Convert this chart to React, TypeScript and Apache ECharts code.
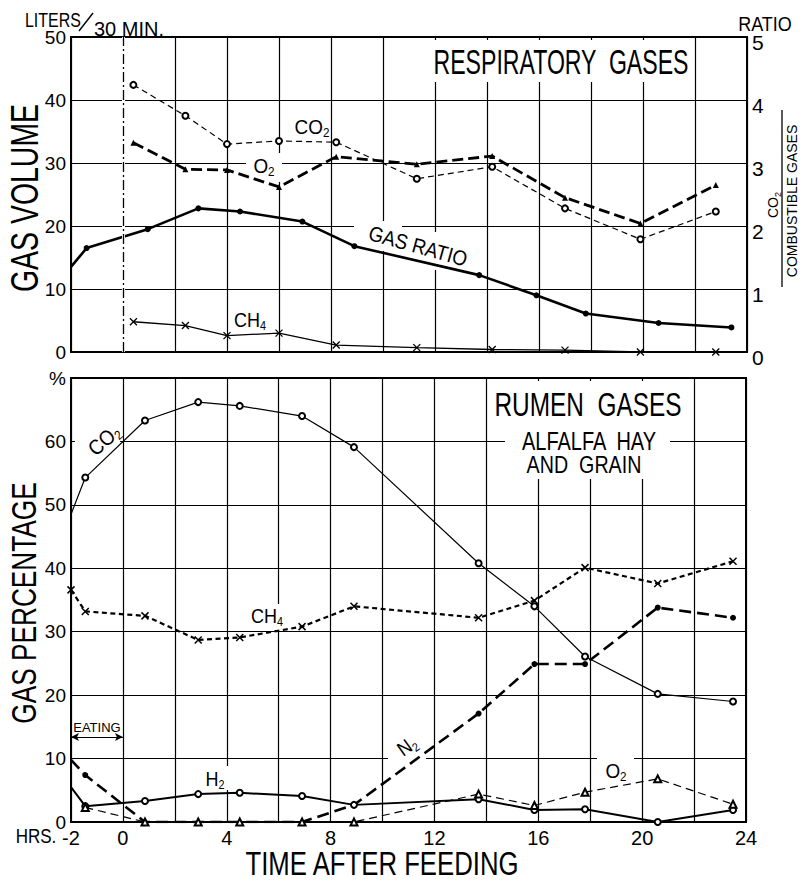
import React, { useEffect, useRef } from "react";
import * as echarts from "echarts";

// ---------- DATA ----------
const respHours = [0.4, 2.4, 4.0, 6.0, 8.2, 11.3, 14.2, 17.0, 19.9, 22.8];
const respCO2 = [42.4, 37.5, 33.0, 33.5, 33.3, 27.5, 29.4, 22.8, 17.9, 22.3];
const respO2 = [33.2, 29.0, 28.9, 26.2, 31.0, 29.8, 31.1, 24.5, 20.4, 26.5];
const respCH4 = [4.8, 4.2, 2.6, 3.0, 1.1, 0.7, 0.4, 0.3, 0.0, 0.0];
const ratioHours = [-2, -1.4, 0.95, 2.9, 4.5, 6.9, 8.9, 13.7, 15.9, 17.8, 20.6, 23.4];
const gasRatio = [1.35, 1.65, 1.95, 2.28, 2.23, 2.07, 1.68, 1.22, 0.9, 0.61, 0.46, 0.39];

const rumenHours = [-2, -1.45, 0.85, 2.9, 4.5, 6.9, 8.9, 13.7, 15.85, 17.8, 20.6, 23.5];
const rumenCO2 = [48.5, 54.3, 63.3, 66.2, 65.6, 64.0, 59.1, 40.8, 34.0, 26.1, 20.2, 19.0];
const rumenCH4 = [36.6, 33.2, 32.5, 28.7, 29.1, 30.8, 34.0, 32.2, 34.9, 40.1, 37.6, 41.1];
const rumenN2 = [9.8, 7.4, 0, 0, 0, 0, 2.7, 17.1, 24.9, 24.9, 33.8, 32.2];
const rumenH2 = [5.5, 2.5, 3.3, 4.4, 4.6, 4.1, 2.7, 3.6, 1.9, 2.0, 0, 1.9];
const o2Hours = [-1.45, 0.85, 2.9, 4.5, 6.9, 8.9, 13.7, 15.85, 17.8, 20.6, 23.5];
const rumenO2 = [2.3, 0, 0, 0, 0, 0, 4.4, 2.6, 4.7, 6.8, 2.8];

const hourMin = -2;
const hourMax = 24;
const hourStep = 2;
const feedingHour = 0;
const eatingStart = -2;
const eatingEnd = 0;
const eatingLevel = 13.4;
const volumeMax = 50;
const ratioMax = 5;
const percentMax = 70;

const FONT = "'Liberation Sans', Arial, sans-serif";
const X_MARK = "path://M0,0L10,10M10,0L0,10";

function pts(hours: number[], vals: number[], hideFirst = false, hideZero = false) {
  return hours.map((h, i) => {
    const item: any = { value: [h, vals[i]] };
    if ((hideFirst && i === 0) || (hideZero && vals[i] === 0)) item.symbol = "none";
    return item;
  });
}

function txt(text: string, x: number, y: number, size: number, o: any = {}) {
  return {
    type: "text", x, y, rotation: o.rot || 0, scaleX: o.sx || 1, scaleY: o.sy || 1, z: 10,
    style: { text, fontSize: size, fontFamily: FONT, fill: "#000", align: o.align || "center", verticalAlign: "middle" },
  };
}

function chem(base: string, sub: string, x: number, y: number, size: number, rot = 0, sx = 0.9) {
  const sub_size = Math.round(size * 0.62);
  return {
    type: "text", x, y, rotation: rot, scaleX: sx, z: 10,
    style: {
      text: `{a|${base}}{b|${sub}}`, align: "center", verticalAlign: "middle",
      rich: {
        a: { fontSize: size, fontFamily: FONT, fill: "#000", lineHeight: size + 4 },
        b: { fontSize: sub_size, fontFamily: FONT, fill: "#000", lineHeight: sub_size, padding: [size + 4 - sub_size, 0, 0, 0] },
      },
    },
  };
}

function knock(x: number, y: number, w: number, h: number) {
  return { type: "rect", z: 1, shape: { x, y, width: w, height: h }, style: { fill: "#fff" } };
}

const gridLine = () => ({ show: true, lineStyle: { color: "#000", width: 1.2 } });
const axisLine = () => ({ show: true, onZero: false, lineStyle: { color: "#000", width: 2 } });

export default function App() {
  const ref = useRef<HTMLDivElement>(null);

  useEffect(() => {
    if (!ref.current) return;
    const chart = echarts.init(ref.current, undefined, { renderer: "svg" });

    const option: any = {
      animation: false,
      backgroundColor: "#fff",
      grid: [
        { left: 71, top: 37, width: 676, height: 315, show: true, borderColor: "#000", borderWidth: 2, backgroundColor: "transparent" },
        { left: 71, top: 378, width: 675, height: 444, show: true, borderColor: "#000", borderWidth: 2, backgroundColor: "transparent" },
      ],
      xAxis: [
        {
          type: "value", gridIndex: 0, min: hourMin, max: hourMax, interval: hourStep,
          axisLine: axisLine(), axisTick: { show: false }, axisLabel: { show: false }, splitLine: gridLine(),
        },
        {
          type: "value", gridIndex: 1, min: hourMin, max: hourMax, interval: hourStep,
          axisLine: axisLine(), axisTick: { show: false }, splitLine: gridLine(),
          axisLabel: {
            show: true, margin: 6, color: "#000", fontSize: 20, fontFamily: FONT,
            showMinLabel: true, showMaxLabel: true,
            formatter: (v: number) => (v === hourMin || v % 4 === 0 ? String(v) : ""),
          },
        },
      ],
      yAxis: [
        {
          type: "value", gridIndex: 0, min: 0, max: volumeMax, interval: 10, position: "left",
          axisLine: axisLine(), axisTick: { show: false }, splitLine: gridLine(),
          axisLabel: { margin: 5, color: "#000", fontSize: 19, fontFamily: FONT },
        },
        {
          type: "value", gridIndex: 0, min: 0, max: ratioMax, interval: 1, position: "right",
          axisLine: axisLine(), axisTick: { show: false }, splitLine: { show: false },
          axisLabel: { margin: 5, color: "#000", fontSize: 21, fontFamily: FONT, verticalAlign: "top", lineHeight: 10 },
        },
        {
          type: "value", gridIndex: 1, min: 0, max: percentMax, interval: 10, position: "left",
          axisLine: axisLine(), axisTick: { show: false }, splitLine: gridLine(),
          axisLabel: {
            margin: 5, color: "#000", fontSize: 19, fontFamily: FONT,
            formatter: (v: number) => (v === percentMax ? "%" : String(v)),
          },
        },
      ],
      series: [
        {
          name: "CO2 resp", type: "line", xAxisIndex: 0, yAxisIndex: 0,
          data: pts(respHours, respCO2),
          lineStyle: { color: "#000", width: 1.2, type: [6, 4] },
          symbol: "emptyCircle", symbolSize: 6,
          itemStyle: { color: "#000", borderColor: "#000", borderWidth: 1.2 },
        },
        {
          name: "O2 resp", type: "line", xAxisIndex: 0, yAxisIndex: 0,
          data: pts(respHours, respO2),
          lineStyle: { color: "#000", width: 2.8, type: [11, 5] },
          symbol: "triangle", symbolSize: 6, itemStyle: { color: "#000" },
        },
        {
          name: "Gas ratio", type: "line", xAxisIndex: 0, yAxisIndex: 1,
          data: pts(ratioHours, gasRatio, true),
          lineStyle: { color: "#000", width: 2.6 },
          symbol: "circle", symbolSize: 6, itemStyle: { color: "#000" },
        },
        {
          name: "CH4 resp", type: "line", xAxisIndex: 0, yAxisIndex: 0,
          data: pts(respHours, respCH4),
          lineStyle: { color: "#000", width: 1.3 },
          symbol: X_MARK, symbolSize: 7,
          itemStyle: { color: "#000", borderColor: "#000", borderWidth: 1.3 },
          markLine: {
            silent: true, symbol: "none", label: { show: false },
            data: [
              { xAxis: feedingHour, lineStyle: { color: "#fff", width: 3, type: "solid" } },
              { xAxis: feedingHour, lineStyle: { color: "#000", width: 1.3, type: [10, 3, 2, 3] } },
            ],
          },
        },
        {
          name: "CO2 rumen", type: "line", xAxisIndex: 1, yAxisIndex: 2,
          data: pts(rumenHours, rumenCO2, true),
          lineStyle: { color: "#000", width: 1.2 },
          symbol: "emptyCircle", symbolSize: 6, itemStyle: { color: "#000", borderWidth: 1.2 },
        },
        {
          name: "CH4 rumen", type: "line", xAxisIndex: 1, yAxisIndex: 2,
          data: pts(rumenHours, rumenCH4),
          lineStyle: { color: "#000", width: 2.2, type: [5, 3.5] },
          symbol: X_MARK, symbolSize: 7,
          itemStyle: { color: "#000", borderColor: "#000", borderWidth: 1.5 },
        },
        {
          name: "N2", type: "line", xAxisIndex: 1, yAxisIndex: 2,
          data: pts(rumenHours, rumenN2, true, true),
          lineStyle: { color: "#000", width: 2.6, type: [12, 6] },
          symbol: "circle", symbolSize: 6, itemStyle: { color: "#000" },
        },
        {
          name: "H2", type: "line", xAxisIndex: 1, yAxisIndex: 2,
          data: pts(rumenHours, rumenH2, true),
          lineStyle: { color: "#000", width: 2 },
          symbol: "emptyCircle", symbolSize: 6, itemStyle: { color: "#000", borderWidth: 1.3 },
          markLine: {
            silent: true, symbol: ["arrow", "arrow"], symbolSize: [6, 8],
            lineStyle: { color: "#000", width: 1, type: "solid" },
            label: {
              show: true, position: "insideMiddleTop", formatter: "EATING",
              color: "#000", fontSize: 13, fontFamily: FONT, distance: 3,
            },
            data: [[{ coord: [eatingStart, eatingLevel] }, { coord: [eatingEnd, eatingLevel] }]],
          },
        },
        {
          name: "O2 rumen", type: "line", xAxisIndex: 1, yAxisIndex: 2,
          data: pts(o2Hours, rumenO2),
          lineStyle: { color: "#000", width: 1.2, type: [8, 5] },
          symbol: "emptyTriangle", symbolSize: 7, itemStyle: { color: "#000", borderWidth: 1.1 },
        },
      ],
      graphic: [
        knock(426, 40, 268, 42),
        knock(246, 153, 36, 29),
        knock(354, 221, 48, 30),
        knock(402, 232, 74, 38),
        knock(505, 381, 165, 98),
        knock(75, 424, 45, 35),
        knock(244, 604, 48, 27),
        knock(388, 733, 38, 26),
        knock(597, 756, 37, 28),
        knock(200, 766, 30, 24),
        txt("LITERS", 25, 20, 21, { align: "left", sx: 0.76 }),
        { type: "line", z: 10, shape: { x1: 79, y1: 31, x2: 93, y2: 13 }, style: { stroke: "#000", lineWidth: 1.4 } },
        txt("30 MIN.", 94, 29, 20, { align: "left", sx: 1.0 }),
        txt("RATIO", 765, 24, 20, { sx: 0.9 }),
        txt("RESPIRATORY  GASES", 561, 62, 35, { sx: 0.66 }),
        txt("GAS VOLUME", 24, 198, 39, { rot: Math.PI / 2, sx: 0.73 }),
        txt("GAS PERCENTAGE", 24, 603, 35, { rot: Math.PI / 2, sx: 0.75 }),
        txt("TIME AFTER FEEDING", 382, 863, 33, { sx: 0.78 }),
        txt("HRS.", 36, 836, 20, { sx: 0.85 }),
        txt("RUMEN  GASES", 588, 405, 33, { sx: 0.74 }),
        txt("ALFALFA  HAY", 589, 442, 25, { sx: 0.8 }),
        txt("AND  GRAIN", 584, 465, 24, { sx: 0.82 }),
        chem("CO", "2", 773, 205, 14, Math.PI / 2, 1),
        { type: "line", z: 10, shape: { x1: 782, y1: 110, x2: 782, y2: 287 }, style: { stroke: "#000", lineWidth: 1.3 } },
        txt("COMBUSTIBLE GASES", 792, 201, 14, { rot: Math.PI / 2 }),
        chem("CO", "2", 312, 127, 21),
        chem("O", "2", 264, 166, 21),
        txt("GAS RATIO", 418, 246, 21, { rot: -0.27, sx: 0.9 }),
        chem("CH", "4", 250, 320, 20),
        chem("CO", "2", 104, 440, 21, 0.72),
        chem("CH", "4", 267, 616, 20),
        chem("N", "2", 407, 746, 20, 0.62),
        chem("H", "2", 215, 779, 20),
        chem("O", "2", 616, 771, 21),
      ],
    };

    chart.setOption(option);
    return () => chart.dispose();
  }, []);

  return (
    <div ref={ref} style={{ position: "fixed", left: 0, top: 0, width: 802, height: 880, background: "#fff" }} />
  );
}
